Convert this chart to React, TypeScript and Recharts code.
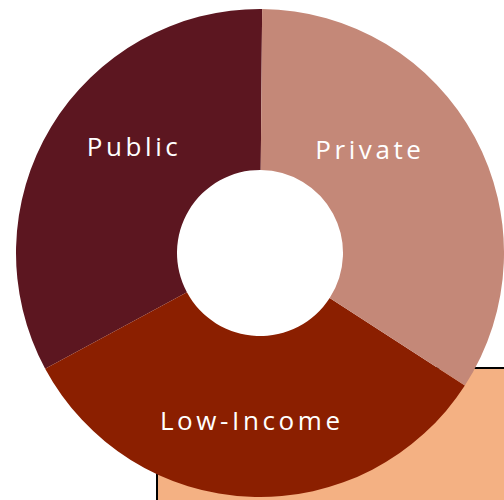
import React from "react";
import { PieChart, Pie, Cell } from "recharts";

const categories = ["Public", "Low-Income", "Private"];
const shares = [33, 33, 34];
const colors = ["#5C1620", "#8B1F00", "#C48878"];

const data = categories.map((name, i) => ({ name, value: shares[i] }));

const RAD = Math.PI / 180;
const labelPlacement: Record<string, { angle: number; r: number }> = {
  Public: { angle: 140, r: 167 },
  "Low-Income": { angle: 266.5, r: 167 },
  Private: { angle: 44, r: 150 },
};

const renderLabel = (props: any) => {
  const { cx, cy, name } = props;
  const p = labelPlacement[name];
  const x = cx + p.r * Math.cos(p.angle * RAD);
  const y = cy - p.r * Math.sin(p.angle * RAD);
  return (
    <text
      x={x + 2}
      y={y}
      fill="#FFFFFF"
      textAnchor="middle"
      dominantBaseline="central"
      style={{ fontFamily: "'Open Sans', sans-serif", fontSize: 26, letterSpacing: 3.6 }}
    >
      {name}
    </text>
  );
};

export default function App() {
  return (
    <div
      style={{
        position: "absolute",
        left: 0,
        top: 0,
        width: 504,
        height: 500,
        overflow: "hidden",
        background: "#FFFFFF",
      }}
    >
      <div
        style={{
          position: "absolute",
          left: 156,
          top: 367,
          width: 400,
          height: 200,
          background: "#F4B183",
          border: "2px solid #000000",
        }}
      />
      <div style={{ position: "absolute", left: 0, top: 0 }}>
        <PieChart width={504} height={500} margin={{ top: 0, right: 0, bottom: 0, left: 0 }}>
          <Pie
            data={data}
            dataKey="value"
            nameKey="name"
            cx={260}
            cy={253}
            innerRadius={83}
            outerRadius={244}
            startAngle={89.5}
            endAngle={449.5}
            stroke="none"
            label={renderLabel}
            labelLine={false}
            isAnimationActive={false}
          >
            {data.map((d, i) => (
              <Cell key={d.name} fill={colors[i]} />
            ))}
          </Pie>
        </PieChart>
      </div>
    </div>
  );
}
